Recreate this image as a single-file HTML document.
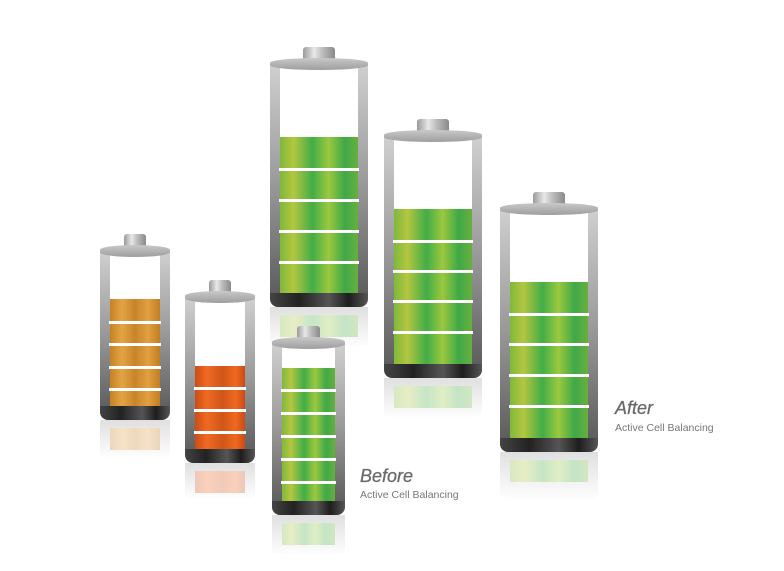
<!DOCTYPE html>
<html><head><meta charset="utf-8"><style>
body{margin:0;width:784px;height:571px;background:#fff;position:relative;overflow:hidden;font-family:"Liberation Sans",sans-serif}
.b{position:absolute}
.cap{position:absolute;top:-11px;left:34%;width:32%;height:13px;border-radius:3px 3px 0 0;background:linear-gradient(90deg,#9a9a9a,#e8e8e8 35%,#bdbdbd 60%,#8a8a8a)}
.rim{position:absolute;top:0;left:0;right:0;height:12px;border-radius:50%/40%;background:linear-gradient(180deg,#c8c8c8,#9e9e9e);z-index:2}
.lw,.rw{position:absolute;top:6px;bottom:6px;width:10px;background:linear-gradient(180deg,#d0d0d0,#9a9a9a 50%,#5a5a5a)}
.lw{left:0;border-radius:0 0 0 4px}.rw{right:0;border-radius:0 0 4px 0}
.base{position:absolute;bottom:0;left:0;right:0;height:14px;border-radius:0 0 8px 8px;background:linear-gradient(90deg,#444,#222 30%,#555 60%,#1e1e1e 80%,#555);z-index:1}
.f{position:absolute;left:9px;right:9px;bottom:10px;z-index:0}
.g{background:linear-gradient(90deg,#7ab83a,#b4c640 18%,#42ad48 42%,#9bc83e 62%,#3fa948 82%,#6bb03c)}
.o{background:linear-gradient(90deg,#c47e22,#e3a445 25%,#c8842a 50%,#e2a040 75%,#c07a20)}
.r{background:linear-gradient(90deg,#c94a16,#f06a22 25%,#d0561a 55%,#f06820 80%,#c44814)}
.s{position:absolute;left:9px;right:9px;height:3px;background:#fff;z-index:1}
.rf{position:absolute;opacity:.3;background:linear-gradient(180deg,#999,#fff);border-radius:0 0 6px 6px}
.rf i{position:absolute;left:10px;right:10px;top:8px;height:22px}
.t1{position:absolute;font-style:italic;font-size:18px;color:#6a6a6a;-webkit-text-stroke:0.3px #6a6a6a}
.t2{position:absolute;font-size:10.5px;color:#777}
</style></head><body>

<div class="rf" style="left:100px;top:420px;width:70px;height:38px"><i class="o"></i></div>
<div class="rf" style="left:185px;top:463px;width:70px;height:36px"><i class="r"></i></div>
<div class="rf" style="left:270px;top:307px;width:98px;height:40px"><i class="g"></i></div>
<div class="rf" style="left:272px;top:515px;width:73px;height:40px"><i class="g"></i></div>
<div class="rf" style="left:384px;top:378px;width:98px;height:40px"><i class="g"></i></div>
<div class="rf" style="left:500px;top:452px;width:98px;height:48px"><i class="g"></i></div>

<div class="b" style="left:100px;top:245px;width:70px;height:175px">
<div class="cap"></div><div class="f o" style="top:54px"></div>
<div class="s" style="top:76px"></div><div class="s" style="top:98px"></div><div class="s" style="top:121px"></div><div class="s" style="top:143px"></div>
<div class="lw"></div><div class="rw"></div><div class="base"></div><div class="rim"></div></div>
<div class="b" style="left:185px;top:291px;width:70px;height:172px">
<div class="cap"></div><div class="f r" style="top:75px"></div>
<div class="s" style="top:96px"></div><div class="s" style="top:118px"></div><div class="s" style="top:140px"></div>
<div class="lw"></div><div class="rw"></div><div class="base"></div><div class="rim"></div></div>
<div class="b" style="left:270px;top:58px;width:98px;height:249px">
<div class="cap"></div><div class="f g" style="top:79px"></div>
<div class="s" style="top:110px"></div><div class="s" style="top:141px"></div><div class="s" style="top:172px"></div><div class="s" style="top:203px"></div>
<div class="lw"></div><div class="rw"></div><div class="base"></div><div class="rim"></div></div>
<div class="b" style="left:272px;top:337px;width:73px;height:178px">
<div class="cap"></div><div class="f g" style="top:31px"></div>
<div class="s" style="top:52px"></div><div class="s" style="top:75px"></div><div class="s" style="top:98px"></div><div class="s" style="top:121px"></div><div class="s" style="top:144px"></div>
<div class="lw"></div><div class="rw"></div><div class="base"></div><div class="rim"></div></div>
<div class="b" style="left:384px;top:130px;width:98px;height:248px">
<div class="cap"></div><div class="f g" style="top:79px"></div>
<div class="s" style="top:110px"></div><div class="s" style="top:140px"></div><div class="s" style="top:170px"></div><div class="s" style="top:201px"></div>
<div class="lw"></div><div class="rw"></div><div class="base"></div><div class="rim"></div></div>
<div class="b" style="left:500px;top:203px;width:98px;height:249px">
<div class="cap"></div><div class="f g" style="top:79px"></div>
<div class="s" style="top:110px"></div><div class="s" style="top:140px"></div><div class="s" style="top:171px"></div><div class="s" style="top:202px"></div>
<div class="lw"></div><div class="rw"></div><div class="base"></div><div class="rim"></div></div>

<div class="t1" style="left:360px;top:466px">Before</div>
<div class="t2" style="left:360px;top:489px">Active Cell Balancing</div>
<div class="t1" style="left:615px;top:398px">After</div>
<div class="t2" style="left:615px;top:422px">Active Cell Balancing</div>
</body></html>
